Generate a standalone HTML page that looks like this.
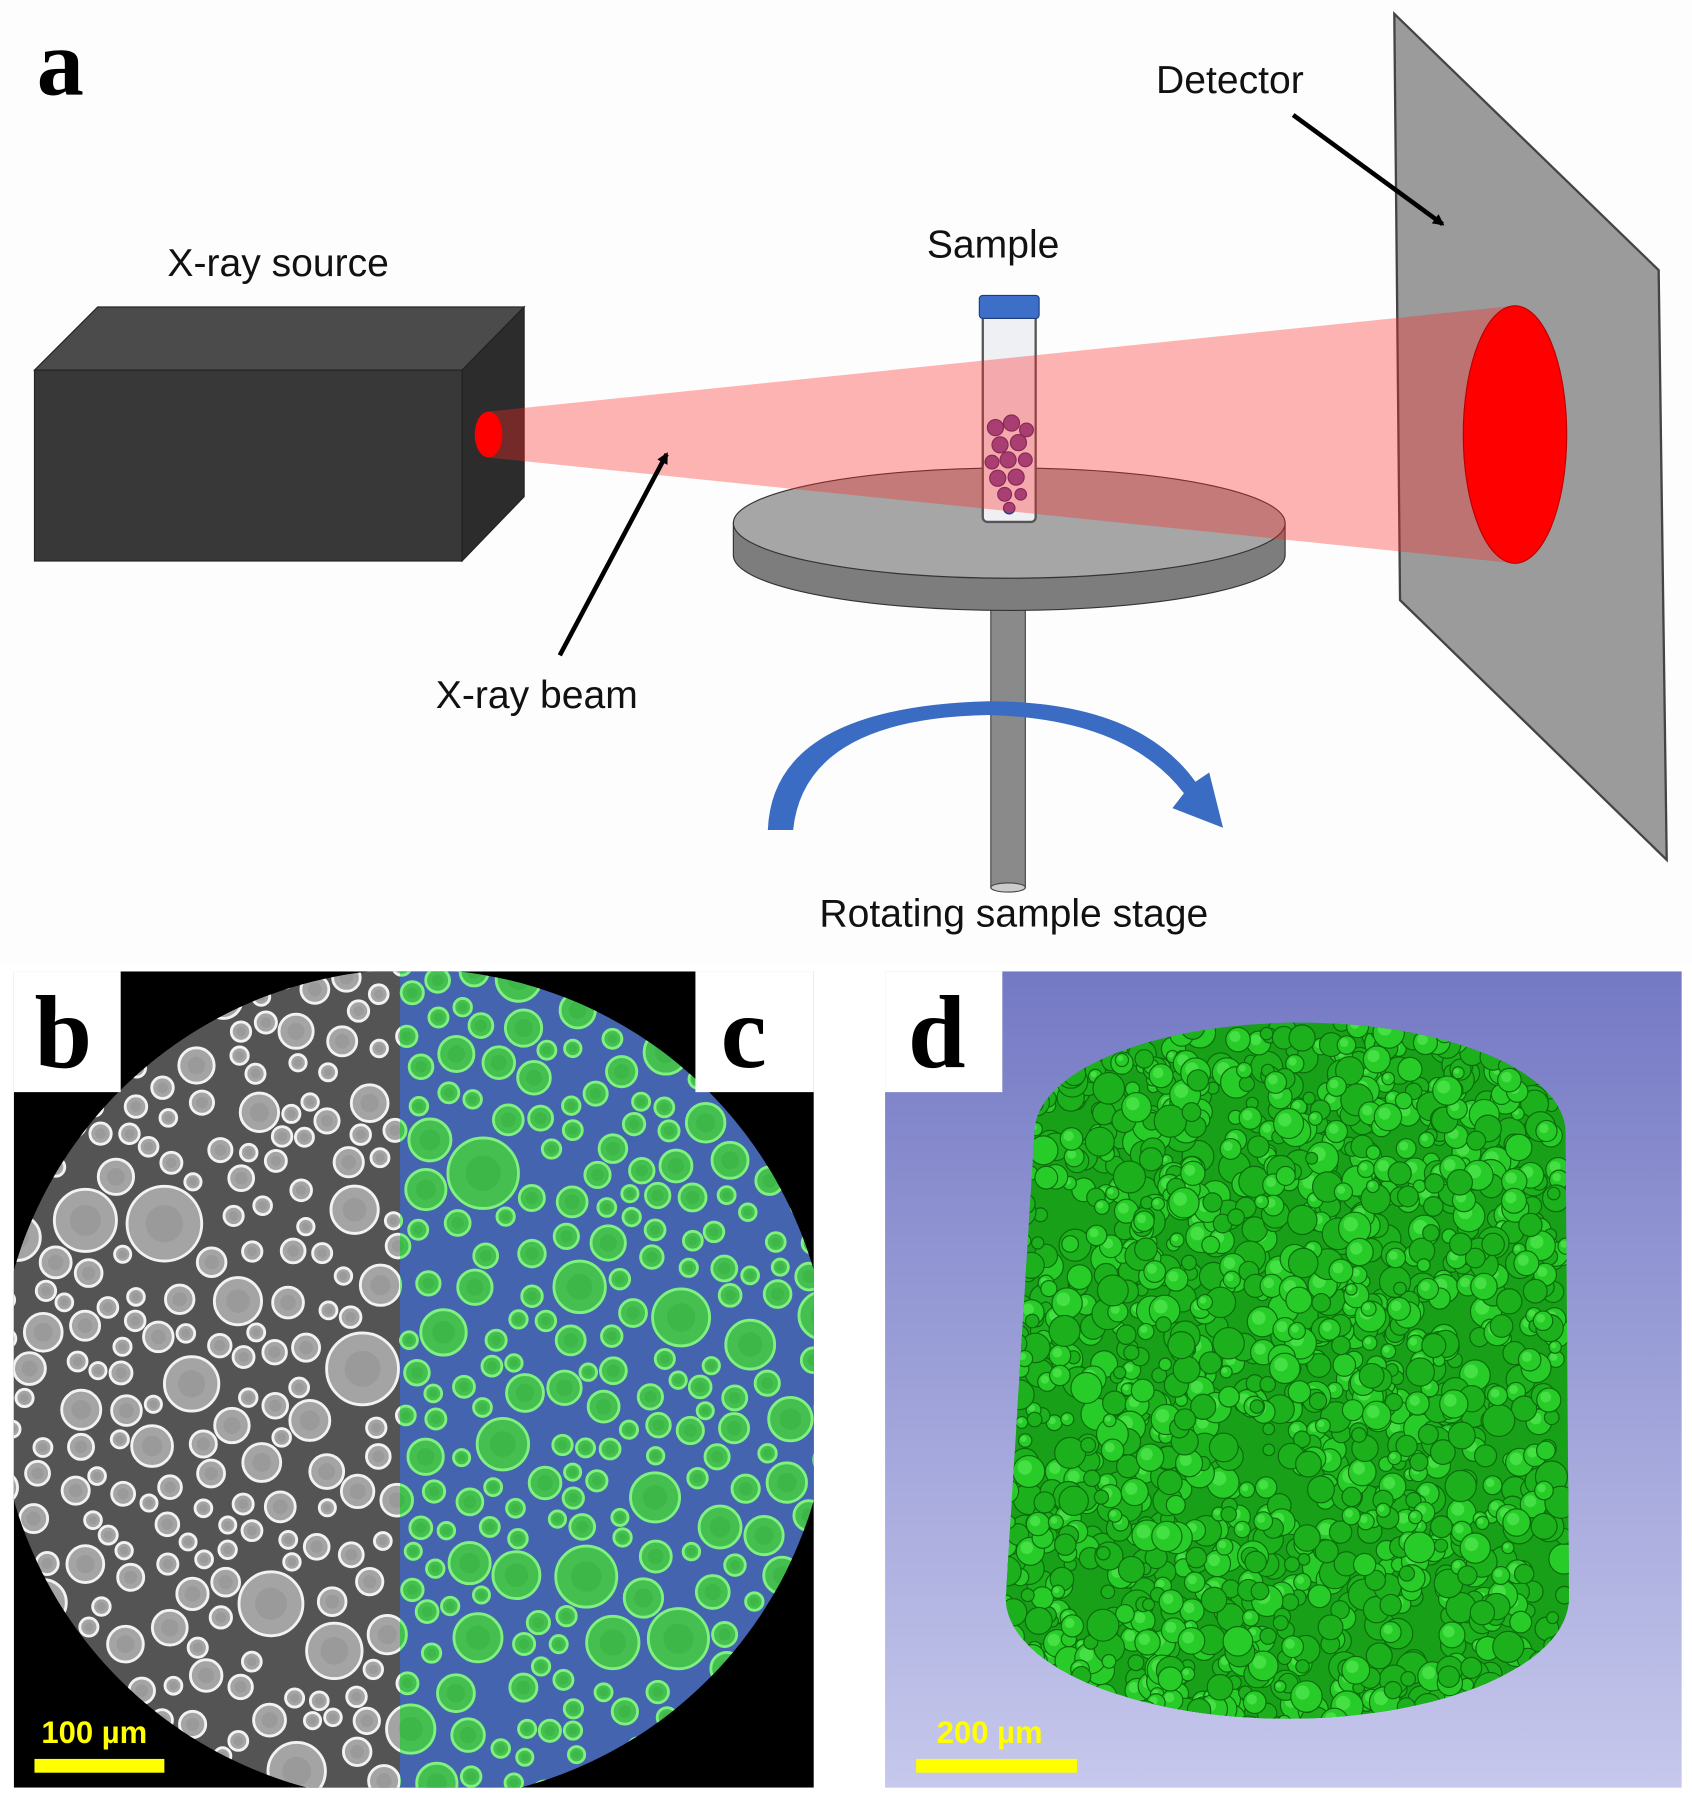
<!DOCTYPE html>
<html><head><meta charset="utf-8"><style>
html,body{margin:0;padding:0;background:#fff}
svg{display:block}
</style></head><body>
<svg id="s" width="1692" height="1798" viewBox="0 0 1472 1564" preserveAspectRatio="none" xmlns="http://www.w3.org/2000/svg">
<defs>
<linearGradient id="bg" x1="0" y1="0" x2="0" y2="1"><stop offset="0" stop-color="#7479c4"/><stop offset="1" stop-color="#c6c8ec"/></linearGradient>
<clipPath id="cb"><rect x="12" y="845" width="696" height="710"/></clipPath>
<clipPath id="circ"><circle cx="360" cy="1205" r="362"/></clipPath>
<clipPath id="left"><rect x="0" y="840" width="348" height="720"/></clipPath>
<clipPath id="right"><rect x="348" y="840" width="400" height="720"/></clipPath>
<clipPath id="cyl"><path d="M900 985 A230 95 0 0 1 1362 985 L1365 1390 A245 105 0 0 1 875 1390 Z"/></clipPath>
<marker id="ah" markerWidth="10" markerHeight="10" refX="8" refY="5" orient="auto" markerUnits="userSpaceOnUse"><path d="M0 0 L10 5 L0 10 Z" fill="#000"/></marker>
</defs>
<rect width="1472" height="1564" fill="#fff"/>
<rect x="0" y="0" width="1472" height="838" fill="#fdfdfd"/>
<text x="32" y="82" font-family="Liberation Serif,serif" font-weight="bold" font-size="82">a</text>
<polygon points="30,322 85,267 456,267 402,322" fill="#4b4b4b" stroke="#222"/>
<polygon points="402,322 456,267 456,432 402,488" fill="#2c2c2c" stroke="#222"/>
<rect x="30" y="322" width="372" height="166" fill="#383838" stroke="#222"/>
<polygon points="1213,12 1443,235 1450,748 1218,522" fill="#9b9b9b" stroke="#444" stroke-width="2"/>
<rect x="862" y="500" width="30" height="272" fill="#8a8a8a" stroke="#444"/>
<ellipse cx="877" cy="772" rx="15" ry="4" fill="#ccc" stroke="#444"/>
<path d="M638 455 L638 483 A240 48 0 0 0 1118 483 L1118 455 Z" fill="#7d7d7d" stroke="#333"/>
<ellipse cx="878" cy="455" rx="240" ry="48" fill="#a6a6a6" stroke="#333"/>
<rect x="855" y="272" width="46" height="182" rx="4" fill="#eef0f4" stroke="#555" stroke-width="2"/>
<rect x="852" y="257" width="52" height="20" rx="3" fill="#3e6fc8" stroke="#1e3d80"/>
<g fill="#7a4a9a" stroke="#4a2a6a" stroke-width="1">
<circle cx="866" cy="372" r="7"/><circle cx="880" cy="368" r="7"/><circle cx="893" cy="374" r="6"/><circle cx="870" cy="387" r="7"/><circle cx="886" cy="385" r="7"/><circle cx="863" cy="402" r="6"/><circle cx="877" cy="400" r="7"/><circle cx="892" cy="400" r="6"/><circle cx="868" cy="416" r="7"/><circle cx="884" cy="415" r="7"/><circle cx="874" cy="430" r="6"/><circle cx="888" cy="430" r="5"/><circle cx="878" cy="442" r="5"/></g>
<polygon points="425,358 1318,266 1318,490 425,398" fill="rgba(255,40,40,0.35)"/>
<ellipse cx="1318" cy="378" rx="45" ry="112" fill="#ff0000" stroke="#b00" />
<ellipse cx="425" cy="378" rx="12" ry="20" fill="#ff0000"/>
<path d="M668 722 Q672 615 860 610 Q990 610 1040 680 L1052 672 L1064 720 L1020 703 L1030 690 Q980 625 860 622 Q700 625 690 722 Z" fill="#3a6cc4"/>
<line x1="1125" y1="100" x2="1255" y2="195" stroke="#000" stroke-width="4" marker-end="url(#ah)"/>
<line x1="487" y1="570" x2="580" y2="395" stroke="#000" stroke-width="4" marker-end="url(#ah)"/>
<g font-family="Liberation Sans,sans-serif" font-size="34" fill="#111" text-anchor="middle">
<text x="242" y="240">X-ray source</text>
<text x="864" y="224">Sample</text>
<text x="1070" y="81">Detector</text>
<text x="467" y="616">X-ray beam</text>
<text x="882" y="806">Rotating sample stage</text>
</g>
<g clip-path="url(#cb)">
<rect x="12" y="845" width="696" height="710" fill="#000"/>
<g clip-path="url(#circ)">
<rect x="0" y="840" width="348" height="720" fill="#545454"/>
<rect x="348" y="840" width="400" height="720" fill="#4464b0"/>
<g id="gl" clip-path="url(#left)"></g>
<g id="gr" clip-path="url(#right)"></g>
</g>
</g>
<rect x="12" y="845" width="93" height="105" fill="#fff"/>
<rect x="605" y="845" width="103" height="105" fill="#fff"/>
<text x="30" y="928" font-family="Liberation Serif,serif" font-weight="bold" font-size="90">b</text>
<text x="627" y="928" font-family="Liberation Serif,serif" font-weight="bold" font-size="90">c</text>
<rect x="30" y="1530" width="113" height="12" fill="#ffff00"/>
<text x="36" y="1516" font-family="Liberation Sans,sans-serif" font-weight="bold" font-size="27" fill="#ffff00">100 µm</text>
<rect x="770" y="845" width="693" height="710" fill="url(#bg)"/>
<path d="M900 985 A230 95 0 0 1 1362 985 L1365 1390 A245 105 0 0 1 875 1390 Z" fill="#18a018"/>
<g id="gd" clip-path="url(#cyl)"></g>
<rect x="770" y="845" width="102" height="105" fill="#fff"/>
<text x="790" y="928" font-family="Liberation Serif,serif" font-weight="bold" font-size="90">d</text>
<rect x="797" y="1530" width="140" height="12" fill="#ffff00"/>
<text x="815" y="1516" font-family="Liberation Sans,sans-serif" font-weight="bold" font-size="27" fill="#ffff00">200 µm</text>
</svg>
<script>
var seed=7;function r(){seed=(seed*16807)%2147483647;return seed/2147483647;}
var NS="http://www.w3.org/2000/svg";
function c(g,x,y,rr,f,s,sw){var e=document.createElementNS(NS,"circle");e.setAttribute("cx",x);e.setAttribute("cy",y);e.setAttribute("r",rr);e.setAttribute("fill",f);if(s){e.setAttribute("stroke",s);e.setAttribute("stroke-width",sw);}g.appendChild(e);}
var gl=document.getElementById("gl"),gr=document.getElementById("gr"),gd=document.getElementById("gd");
var pts=[];
for(var i=0;i<30000&&pts.length<480;i++){var x=0+r()*720,y=840+r()*720,rr=7+r()*r()*26;var ok=true;for(var j=0;j<pts.length;j++){var p=pts[j];var dx=p[0]-x,dy=p[1]-y;if(dx*dx+dy*dy<(p[2]+rr+3)*(p[2]+rr+3)){ok=false;break;}}if(ok)pts.push([x,y,rr]);}
pts.forEach(function(p){c(gl,p[0],p[1],p[2],"#a4a4a4","#f2f2f2",2.5);c(gl,p[0],p[1],p[2]*0.5,"#9a9a9a");c(gr,p[0],p[1],p[2],"#45c050","#80f080",2.5);c(gr,p[0],p[1],p[2]*0.5,"#3db848");});
for(var k=0;k<1600;k++){var x=875+r()*490,y=890+r()*620,rr=5+r()*9;var sh=r();c(gd,x,y,rr,sh<0.5?"#1cb01c":"#28cc28","#0b6a0b",1);if(sh>0.6)c(gd,x-rr*0.25,y-rr*0.25,rr*0.45,"#44e044");}
</script>
</body></html>
